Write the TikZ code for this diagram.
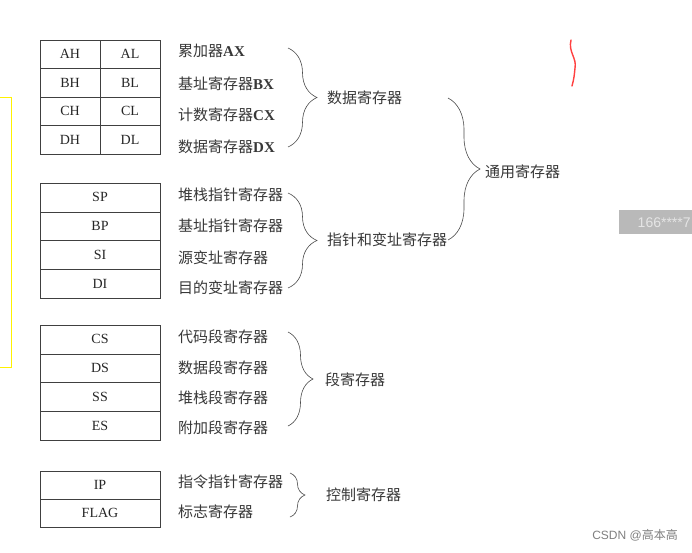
\documentclass[tikz,border=0pt]{standalone}
\usepackage{fontspec}
\setmainfont{Liberation Serif}
\newfontfamily\cjk{Noto Sans CJK SC}
\newfontfamily\wmfont{Liberation Sans}
\usetikzlibrary{decorations.pathreplacing}

\begin{document}
\begin{tikzpicture}[x=1pt, y=-1pt,
    reg/.style={rectangle, draw=black!75, minimum width=60pt, minimum height=28.6pt, inner sep=0pt, font=\fontsize{14}{16}\selectfont, text=black!85},
    regwide/.style={reg, minimum width=120pt},
    lbl/.style={anchor=west, inner sep=0pt, font=\fontsize{15}{17}\selectfont\cjk, text=black!78},
    curly/.style={decorate, decoration={brace, amplitude=#1}, draw=black!70, semithick}
]
    \fill[white] (0,0) rectangle (692,552);
    \useasboundingbox (0,0) rectangle (692,552);

    % Marks on the screenshot
    \draw[yellow, line width=1pt] (-5,97) rectangle (11,367);
    \draw[red!75, line width=1.4pt, line cap=round] (571,40) .. controls (568,52) and (577,58) .. (575,68) .. controls (574,78) .. (572,86);
    \node[fill=gray!55, text=white!80!gray, anchor=north west, minimum width=90pt, minimum height=24pt, inner sep=0pt, font=\fontsize{14}{16}\wmfont] (tag) at (619,210) {166****7};
    \node[anchor=east, inner sep=0pt, font=\fontsize{12}{14}\wmfont, text=gray] (csdn) at (678,535) {CSDN @{\cjk 高本高}};

    % Data registers
    \node[reg] (ah) at (70,54.25) {AH};
    \node[reg] (al) at (130,54.25) {AL};
    \node[reg] (bh) at (70,82.75) {BH};
    \node[reg] (bl) at (130,82.75) {BL};
    \node[reg] (ch) at (70,111.25) {CH};
    \node[reg] (cl) at (130,111.25) {CL};
    \node[reg] (dh) at (70,139.75) {DH};
    \node[reg] (dl) at (130,139.75) {DL};
    \node[lbl] (ax) at (178,51) {累加器\textbf{\rmfamily AX}};
    \node[lbl] (bx) at (178,84) {基址寄存器\textbf{\rmfamily BX}};
    \node[lbl] (cx) at (178,115) {计数寄存器\textbf{\rmfamily CX}};
    \node[lbl] (dx) at (178,147) {数据寄存器\textbf{\rmfamily DX}};

    % Pointer and index registers
    \node[regwide] (sp) at (100,197.4) {SP};
    \node[regwide] (bp) at (100,226.1) {BP};
    \node[regwide] (si) at (100,254.9) {SI};
    \node[regwide] (di) at (100,283.6) {DI};
    \node[lbl] (spl) at (178,195) {堆栈指针寄存器};
    \node[lbl] (bpl) at (178,226) {基址指针寄存器};
    \node[lbl] (sil) at (178,258) {源变址寄存器};
    \node[lbl] (dil) at (178,288) {目的变址寄存器};

    % Segment registers
    \node[regwide] (cs) at (100,339.4) {CS};
    \node[regwide] (ds) at (100,368.1) {DS};
    \node[regwide] (ss) at (100,396.9) {SS};
    \node[regwide] (es) at (100,425.6) {ES};
    \node[lbl] (csl) at (178,337) {代码段寄存器};
    \node[lbl] (dsl) at (178,368) {数据段寄存器};
    \node[lbl] (ssl) at (178,398) {堆栈段寄存器};
    \node[lbl] (esl) at (178,428) {附加段寄存器};

    % Control registers
    \node[regwide, minimum height=28pt] (ip) at (100,485) {IP};
    \node[regwide, minimum height=28pt] (flag) at (100,513) {FLAG};
    \node[lbl] (ipl) at (178,482) {指令指针寄存器};
    \node[lbl] (flagl) at (178,512) {标志寄存器};

    % Groups
    \node[lbl] (data) at (327,98) {数据寄存器};
    \node[lbl] (ptr) at (327,240) {指针和变址寄存器};
    \node[lbl] (gen) at (485,172) {通用寄存器};
    \node[lbl] (seg) at (325,380) {段寄存器};
    \node[lbl] (ctrl) at (326,495) {控制寄存器};

    \coordinate (d1) at (288,48);
    \coordinate (d2) at (288,147);
    \coordinate (p1) at (288,193);
    \coordinate (p2) at (288,288);
    \coordinate (g1) at (448,98);
    \coordinate (g2) at (448,240);
    \coordinate (s1) at (288,332);
    \coordinate (s2) at (288,426);
    \coordinate (c1) at (290,473);
    \coordinate (c2) at (290,517);
    \draw[curly=29pt] (d1) -- (d2);
    \draw[curly=29pt] (p1) -- (p2);
    \draw[curly=32pt] (g1) -- (g2);
    \draw[curly=25pt] (s1) -- (s2);
    \draw[curly=15pt] (c1) -- (c2);
\end{tikzpicture}
\end{document}
